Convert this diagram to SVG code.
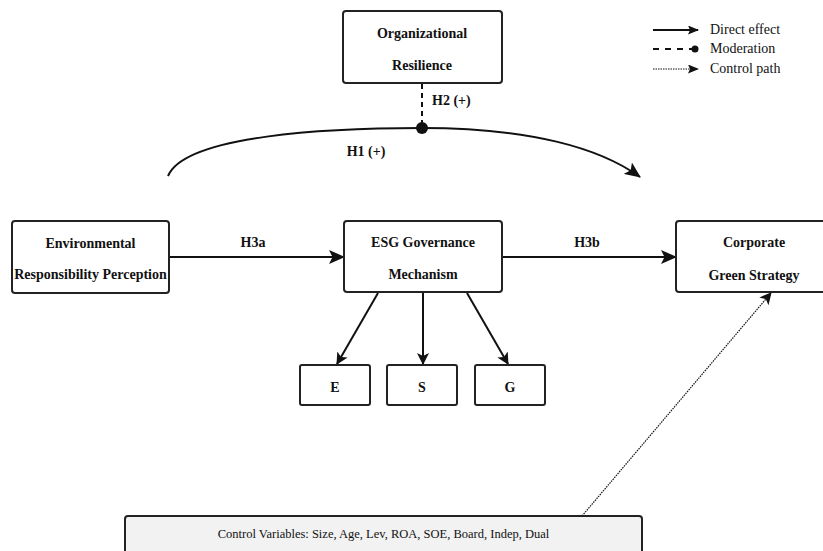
<svg xmlns="http://www.w3.org/2000/svg" width="823" height="551" viewBox="0 0 823 551">
<defs>
<marker id="arr" viewBox="0 0 12 12" refX="11" refY="6" markerWidth="12" markerHeight="12" markerUnits="userSpaceOnUse" orient="auto">
<path d="M0,0 L12,6 L0,12 L3,6 Z" fill="#111"/>
</marker>
<marker id="arrBig" viewBox="0 0 16 14" refX="15" refY="7" markerWidth="16" markerHeight="14" markerUnits="userSpaceOnUse" orient="auto">
<path d="M0,0 L16,7 L0,14 L3.5,7 Z" fill="#111"/>
</marker>
<marker id="arrSm" viewBox="0 0 11 9" refX="10" refY="4.5" markerWidth="11" markerHeight="9" markerUnits="userSpaceOnUse" orient="auto">
<path d="M0,0 L11,4.5 L0,9 L2,4.5 Z" fill="#111"/>
</marker>
</defs>
<style>
.box{fill:#fff;stroke:#222;stroke-width:2}
.t{font-family:"Liberation Serif","Times New Roman",serif;font-size:14px;font-weight:bold;fill:#111;text-anchor:middle}
.n{font-family:"Liberation Serif","Times New Roman",serif;font-size:14px;fill:#111}
.line{fill:none;stroke:#111;stroke-width:2}
</style>
<g id="legend">
<line x1="653" y1="30" x2="698" y2="30" stroke="#111" stroke-width="2" marker-end="url(#arrSm)"/>
<text class="n" x="710" y="34">Direct effect</text>
<line x1="653" y1="49" x2="692" y2="49" stroke="#111" stroke-width="2" stroke-dasharray="6,6"/>
<circle cx="695" cy="49" r="3.5" fill="#111"/>
<text class="n" x="710" y="53">Moderation</text>
<line x1="653" y1="69" x2="698" y2="69" stroke="#111" stroke-width="1.2" stroke-dasharray="1.5,1" marker-end="url(#arrSm)"/>
<text class="n" x="710" y="73">Control path</text>
</g>
<g id="connectors">
<line x1="422" y1="84" x2="422" y2="124" stroke="#111" stroke-width="2" stroke-dasharray="5,4"/>
<path class="line" d="M168,176 C185,135 330,128 422,128 C530,128 600,148 640,177" marker-end="url(#arrBig)"/>
<circle cx="422" cy="128" r="6" fill="#111"/>
<line class="line" x1="169" y1="257" x2="344" y2="257" marker-end="url(#arrBig)"/>
<line class="line" x1="502" y1="257" x2="676" y2="257" marker-end="url(#arrBig)"/>
<line class="line" stroke-width="1.6" x1="378" y1="293" x2="337" y2="364" marker-end="url(#arr)"/>
<line class="line" stroke-width="1.6" x1="423" y1="293" x2="423" y2="364" marker-end="url(#arr)"/>
<line class="line" stroke-width="1.6" x1="467" y1="293" x2="508" y2="364" marker-end="url(#arr)"/>
<line x1="582" y1="516" x2="771" y2="293" stroke="#111" stroke-width="1.2" stroke-dasharray="1.5,1" marker-end="url(#arr)"/>
<text class="t" x="432" y="105" style="text-anchor:start">H2 (+)</text>
<text class="t" x="366" y="156">H1 (+)</text>
<text class="t" x="253" y="247">H3a</text>
<text class="t" x="587" y="247">H3b</text>
</g>
<g id="org-resilience">
<rect class="box" x="343" y="11" width="159" height="72" rx="3"/>
<text class="t" x="422" y="38">Organizational</text>
<text class="t" x="422" y="70">Resilience</text>
</g>
<g id="env-perception">
<rect class="box" x="12" y="221" width="157" height="72" rx="3"/>
<text class="t" x="90.5" y="248">Environmental</text>
<text class="t" x="90.5" y="279">Responsibility Perception</text>
</g>
<g id="esg">
<rect class="box" x="344" y="221" width="158" height="71" rx="3"/>
<text class="t" x="423" y="247">ESG Governance</text>
<text class="t" x="423" y="279">Mechanism</text>
</g>
<g id="green-strategy">
<rect class="box" x="676" y="221" width="156" height="71" rx="3"/>
<text class="t" x="754" y="247">Corporate</text>
<text class="t" x="754" y="280">Green Strategy</text>
</g>
<g id="e">
<rect class="box" x="300" y="365" width="70" height="40" rx="2"/>
<text class="t" x="335" y="392">E</text>
</g>
<g id="s">
<rect class="box" x="387" y="365" width="70" height="40" rx="2"/>
<text class="t" x="422" y="392">S</text>
</g>
<g id="g">
<rect class="box" x="475" y="365" width="70" height="40" rx="2"/>
<text class="t" x="510" y="392">G</text>
</g>
<g id="controls">
<rect x="125" y="516" width="517" height="50" rx="3" fill="#f2f2f2" stroke="#222" stroke-width="2"/>
<text class="n" x="383.5" y="538" text-anchor="middle" style="font-size:12.5px">Control Variables: Size, Age, Lev, ROA, SOE, Board, Indep, Dual</text>
</g>
</svg>
